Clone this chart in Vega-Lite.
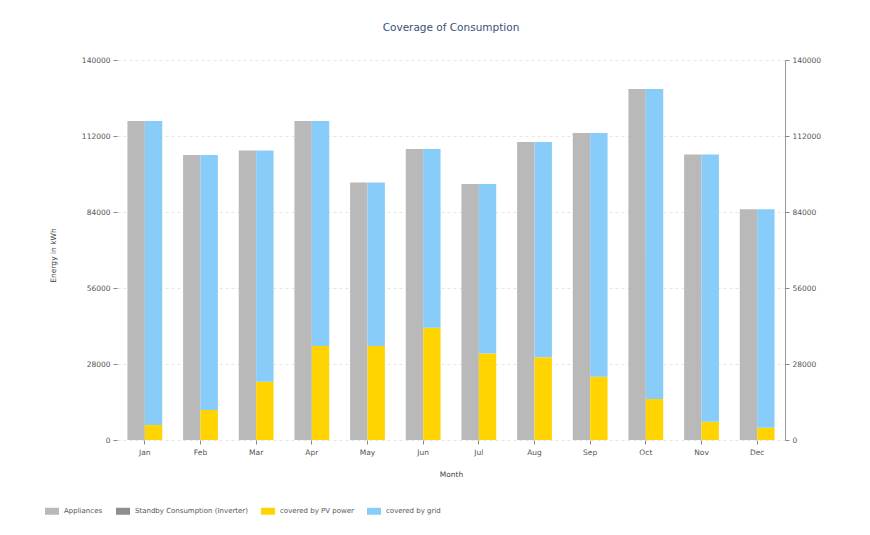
{
  "$schema": "https://vega.github.io/schema/vega-lite/v6.json",
  "width": 668,
  "height": 380,
  "autosize": {"type": "none"},
  "padding": {"left": 117, "top": 60, "right": 85, "bottom": 95},
  "background": "white",
  "title": {"text": "Coverage of Consumption", "fontSize": 10.5, "font": "DejaVu Sans", "fontWeight": "normal", "color": "#3b4f7a", "offset": 23},
  "config": {
    "view": {"stroke": null},
    "font": "DejaVu Sans",
    "axis": {"labelFont": "DejaVu Sans", "titleFont": "DejaVu Sans", "labelFontSize": 7.5, "titleFontSize": 7.5, "titleFontWeight": "normal", "labelColor": "#555", "titleColor": "#444", "tickColor": "#888", "domainColor": "#999"}
  },
  "data": {
    "values": [
      {"month": "Jan", "group": "Consumption", "series": "Appliances", "value": 117500},
      {"month": "Feb", "group": "Consumption", "series": "Appliances", "value": 105000},
      {"month": "Mar", "group": "Consumption", "series": "Appliances", "value": 106700},
      {"month": "Apr", "group": "Consumption", "series": "Appliances", "value": 117500},
      {"month": "May", "group": "Consumption", "series": "Appliances", "value": 94900},
      {"month": "Jun", "group": "Consumption", "series": "Appliances", "value": 107200},
      {"month": "Jul", "group": "Consumption", "series": "Appliances", "value": 94300},
      {"month": "Aug", "group": "Consumption", "series": "Appliances", "value": 109800},
      {"month": "Sep", "group": "Consumption", "series": "Appliances", "value": 113100},
      {"month": "Oct", "group": "Consumption", "series": "Appliances", "value": 129300},
      {"month": "Nov", "group": "Consumption", "series": "Appliances", "value": 105200},
      {"month": "Dec", "group": "Consumption", "series": "Appliances", "value": 85000},
      {"month": "Jan", "group": "Coverage", "series": "covered by PV power", "value": 5500},
      {"month": "Feb", "group": "Coverage", "series": "covered by PV power", "value": 11050},
      {"month": "Mar", "group": "Coverage", "series": "covered by PV power", "value": 21500},
      {"month": "Apr", "group": "Coverage", "series": "covered by PV power", "value": 34600},
      {"month": "May", "group": "Coverage", "series": "covered by PV power", "value": 34600},
      {"month": "Jun", "group": "Coverage", "series": "covered by PV power", "value": 41400},
      {"month": "Jul", "group": "Coverage", "series": "covered by PV power", "value": 31900},
      {"month": "Aug", "group": "Coverage", "series": "covered by PV power", "value": 30500},
      {"month": "Sep", "group": "Coverage", "series": "covered by PV power", "value": 23300},
      {"month": "Oct", "group": "Coverage", "series": "covered by PV power", "value": 15100},
      {"month": "Nov", "group": "Coverage", "series": "covered by PV power", "value": 6700},
      {"month": "Dec", "group": "Coverage", "series": "covered by PV power", "value": 4500},
      {"month": "Jan", "group": "Coverage", "series": "covered by grid", "value": 112000},
      {"month": "Feb", "group": "Coverage", "series": "covered by grid", "value": 93950},
      {"month": "Mar", "group": "Coverage", "series": "covered by grid", "value": 85200},
      {"month": "Apr", "group": "Coverage", "series": "covered by grid", "value": 82900},
      {"month": "May", "group": "Coverage", "series": "covered by grid", "value": 60300},
      {"month": "Jun", "group": "Coverage", "series": "covered by grid", "value": 65800},
      {"month": "Jul", "group": "Coverage", "series": "covered by grid", "value": 62400},
      {"month": "Aug", "group": "Coverage", "series": "covered by grid", "value": 79300},
      {"month": "Sep", "group": "Coverage", "series": "covered by grid", "value": 89800},
      {"month": "Oct", "group": "Coverage", "series": "covered by grid", "value": 114200},
      {"month": "Nov", "group": "Coverage", "series": "covered by grid", "value": 98500},
      {"month": "Dec", "group": "Coverage", "series": "covered by grid", "value": 80500}
    ]
  },
  "encoding": {
    "x": {
      "field": "month", "type": "nominal",
      "sort": ["Jan","Feb","Mar","Apr","May","Jun","Jul","Aug","Sep","Oct","Nov","Dec"],
      "scale": {"paddingInner": 0.375, "paddingOuter": 0.1875},
      "axis": {"title": "Month", "labelAngle": 0, "domain": false, "tickSize": 4, "labelPadding": 4, "titlePadding": 15, "grid": false}
    },
    "xOffset": {"field": "group", "type": "nominal", "scale": {"domain": ["Consumption", "Coverage"], "paddingInner": 0, "paddingOuter": 0}},
    "color": {
      "field": "series", "type": "nominal",
      "scale": {"domain": ["Appliances", "Standby Consumption (Inverter)", "covered by PV power", "covered by grid"], "range": ["#b9b9b9", "#8e8e8e", "#ffd400", "#88ccfa"]},
      "legend": {"title": null, "orient": "none", "direction": "horizontal", "legendX": -72, "legendY": 444, "symbolType": "M-1,-0.5H1V0.5H-1Z", "symbolSize": 196, "symbolStrokeWidth": 0, "labelFontSize": 7, "labelColor": "#555", "columnPadding": 13, "labelOffset": 5}
    }
  },
  "layer": [
    {
      "transform": [{"filter": "datum.group == 'Consumption'"}],
      "mark": {"type": "bar"},
      "encoding": {
        "y": {
          "field": "value", "type": "quantitative",
          "scale": {"domain": [0, 140000], "nice": false},
          "axis": {"title": "Energy in kWh", "values": [0, 28000, 56000, 84000, 112000, 140000], "format": "d", "domain": false, "tickSize": 4, "labelPadding": 3, "titleX": -60, "titleY": 195, "gridColor": "#e6e6e6", "gridDash": [3, 3]}
        }
      }
    },
    {
      "transform": [{"filter": "datum.group == 'Coverage'"}],
      "mark": {"type": "bar"},
      "encoding": {
        "y": {
          "field": "value", "type": "quantitative", "stack": "zero",
          "axis": {"orient": "right", "title": null, "values": [0, 28000, 56000, 84000, 112000, 140000], "format": "d", "grid": false, "domain": true, "tickSize": 4, "labelPadding": 3}
        },
        "order": {"field": "series", "sort": "ascending"}
      }
    }
  ],
  "resolve": {"axis": {"y": "independent"}, "scale": {"y": "shared"}}
}
